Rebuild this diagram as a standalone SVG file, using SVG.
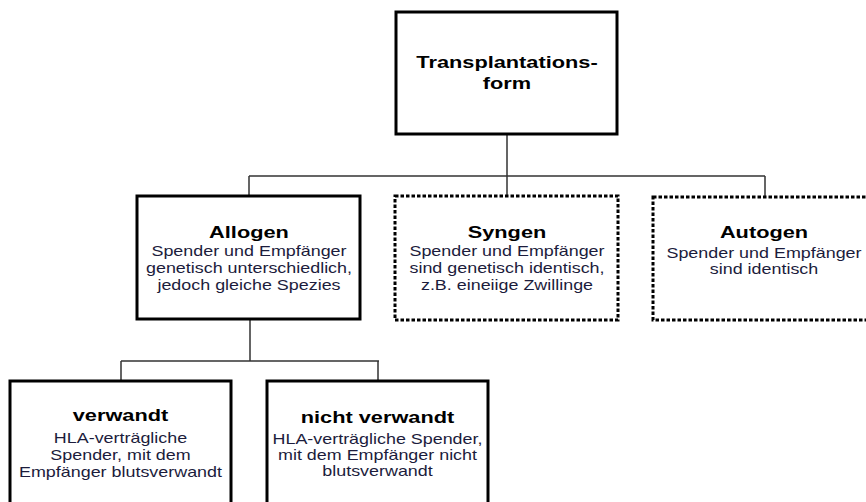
<svg xmlns="http://www.w3.org/2000/svg" width="866" height="502" viewBox="0 0 866 502">
<style>
.box{fill:#fff;stroke:#000;stroke-width:3}
.dot{fill:#fff;stroke:#000;stroke-width:3;stroke-dasharray:3.5 2}
.con{fill:none;stroke:#333;stroke-width:1.5}
text{font-family:"Liberation Sans",Arial,sans-serif;text-anchor:middle}
.t{font-size:17px;font-weight:bold;fill:#000}
.b{font-size:14px;fill:#1c1c3c}
</style>
<rect width="866" height="502" fill="#fff"/>
<g id="connectors">
<path class="con" d="M507 134V176M249 176H765M249 176V196M507 176V196M765 176V197"/>
<path class="con" d="M250 319V361M121 361H379M121 361V381M378 361V381"/>
</g>
<g id="transplantationsform">
<rect class="box" x="396" y="12" width="221" height="122"/>
<g transform="translate(507 0) scale(1.28 1)">
<text class="t" x="0" y="68">Transplantations-</text>
<text class="t" x="0" y="89">form</text>
</g>
</g>
<g id="allogen">
<rect class="box" x="137" y="196" width="223" height="123"/>
<g transform="translate(249 0) scale(1.28 1)">
<text class="t" x="0" y="238">Allogen</text>
<text class="b" x="0" y="256">Spender und Empfänger</text>
<text class="b" x="0" y="273">genetisch unterschiedlich,</text>
<text class="b" x="0" y="290">jedoch gleiche Spezies</text>
</g>
</g>
<g id="syngen">
<rect class="dot" x="395" y="196" width="223" height="124"/>
<g transform="translate(507 0) scale(1.28 1)">
<text class="t" x="0" y="238">Syngen</text>
<text class="b" x="0" y="256">Spender und Empfänger</text>
<text class="b" x="0" y="273">sind genetisch identisch,</text>
<text class="b" x="0" y="290">z.B. eineiige Zwillinge</text>
</g>
</g>
<g id="autogen">
<rect class="dot" x="653" y="197" width="222" height="123"/>
<g transform="translate(764 0) scale(1.28 1)">
<text class="t" x="0" y="238">Autogen</text>
<text class="b" x="0" y="258">Spender und Empfänger</text>
<text class="b" x="0" y="274">sind identisch</text>
</g>
</g>
<g id="verwandt">
<rect class="box" x="10" y="381" width="221" height="140"/>
<g transform="translate(120.5 0) scale(1.28 1)">
<text class="t" x="0" y="421">verwandt</text>
<text class="b" x="0" y="443">HLA-verträgliche</text>
<text class="b" x="0" y="460">Spender, mit dem</text>
<text class="b" x="0" y="477">Empfänger blutsverwandt</text>
</g>
</g>
<g id="nicht-verwandt">
<rect class="box" x="267" y="381" width="221" height="140"/>
<g transform="translate(377.5 0) scale(1.28 1)">
<text class="t" x="0" y="423">nicht verwandt</text>
<text class="b" x="0" y="444">HLA-verträgliche Spender,</text>
<text class="b" x="0" y="460">mit dem Empfänger nicht</text>
<text class="b" x="0" y="476">blutsverwandt</text>
</g>
</g>
</svg>
